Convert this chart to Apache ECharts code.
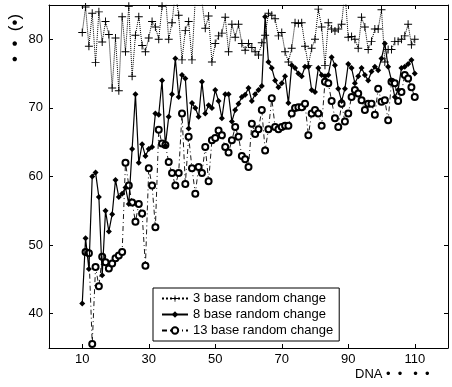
<!DOCTYPE html>
<html>
<head>
<meta charset="utf-8">
<script src="https://cdn.jsdelivr.net/npm/echarts@6/dist/echarts.min.js"></script>
<style>
  html, body { margin: 0; padding: 0; background: #fff; }
  #chart { width: 452px; height: 387px; }
</style>
</head>
<body>
<div id="chart"></div>
<script>
// x positions (DNA index) and the three curves
const xStart = 10
const base3 = [
  81, 84.7, 79, 83.8, 76.6, 84, 79.6, 82.6, 80.7, 72.9,
  80.2, 72.5, 83.3, 78.2, 84.8, 74.6, 80.6, 83.3, 79.1, 78.2,
  80.2, 82.6, 81.8, 80, 84.8, 86.5, 80, 82.4, 87, 83.5,
  77, 81.3, 82.6, 77, 86, 87, 85.5, 81.6, 83.4, 76.7,
  79.4, 80.5, 80.9, 83.2, 78.2, 82.2, 80.3, 82.2, 79.4, 78.4,
  79.4, 78.8, 78.2, 77.7, 79.5, 80.6, 83.8, 83.5, 83, 80.5,
  81, 78.2, 76.7, 78.7, 82.4, 82.3, 82.4, 79, 76.2, 78.7,
  80, 84.4, 81.8, 76.2, 82.4, 81.5, 81.2, 81.5, 82.2, 87,
  80.3, 80.4, 80, 78.7, 83.2, 81.8, 78.5, 79.7, 81.5, 81.5,
  84.3, 76.7, 78.5, 78.5, 79.7, 79.7, 80, 80.5, 82.2, 79.2,
  80
]
const base8 = [
  41.5, 51, 46.5, 60, 60.6, 57, 45.6, 55, 52, 54.5,
  59.5, 57, 57.5, 58.4, 56, 64, 72, 62, 64.7, 63,
  64, 64.3, 69.2, 69, 74, 64.5, 68.7, 72, 77.2, 71.6,
  74.8, 74.3, 67, 70.7, 70, 68.7, 73.8, 69.2, 70.4, 70,
  72.6, 71, 68.5, 72, 72, 68, 69.7, 70.6, 71.6, 71.9,
  72.9, 71, 72, 72.6, 73.2, 83.3, 76.7, 75.8, 74, 73,
  73.6, 74.6, 70.7, 76.2, 75.8, 75, 74.6, 76, 76, 72.6,
  72.3, 75.8, 74.8, 74.6, 74.8, 77.4, 76.2, 72.8, 71, 72.8,
  76.4, 75.8, 73.6, 74.6, 75.8, 74.8, 74, 75.3, 76, 75.5,
  77.2, 79.4, 76, 74, 71.6, 72.6, 75.8, 76, 76.4, 77,
  75
]
// 13 base starts one step later
const base13Start = 11
const base13 = [
  49, 48.8, 35.6, 46.8, 44, 48.3, 47.5, 46.6, 47.3,
  48.1, 48.5, 49, 62, 58.7, 56.2, 53.4, 56, 54.6, 47,
  61.2, 58.7, 52.6, 66.8, 64.8, 64.6, 62.1, 60.5, 58.7, 60.5,
  69.2, 58.9, 65.8, 61.2, 57.5, 61.4, 60.5, 64.3, 59.3, 65.3,
  65.6, 66.7, 66, 64.3, 63.5, 65.3, 67.2, 65.8, 63, 62.5,
  61.4, 67.7, 66.2, 66.9, 69.7, 63.8, 66.9, 71.4, 67.2, 66.9,
  67.2, 67.4, 67.4, 69.2, 70, 70.1, 70.1, 70.6, 66, 69.2,
  69.7, 69.2, 67.4, 73.8, 73.6, 71, 68.5, 67.2, 70.6, 68,
  69.2, 71.6, 72.6, 72.1, 71.1, 69.7, 70.6, 70.6, 69, 72.8,
  70.9, 71.1, 68.2, 73.8, 73.6, 71, 72.3, 74.8, 74.3, 73,
  71.6
]
const seriesNames = ['3 base random change', '8 base random change', '13 base random change']
const xTicks = [10, 30, 50, 70, 90, 110]
const yTicks = [40, 50, 60, 70, 80]

function pairs(start, ys) {
  return ys.map((y, i) => [start + i, y])
}

const font = 'Liberation Sans, Arial, sans-serif'
const plus = 'path://M4.4,0H5.6V4.4H10V5.6H5.6V10H4.4V5.6H0V4.4H4.4Z'

const chart = echarts.init(document.getElementById('chart'), null, { renderer: 'canvas' })

const option = {
  animation: false,
  backgroundColor: '#fff',
  grid: { left: 49, top: 5, right: 4, bottom: 39 },
  xAxis: [
    {
      type: 'value',
      min: 0,
      max: 120,
      axisLine: { onZero: false, lineStyle: { color: '#000', width: 1 } },
      axisTick: { inside: true, length: 4, customValues: xTicks, lineStyle: { color: '#000' } },
      axisLabel: { customValues: xTicks, color: '#000', fontSize: 13, fontFamily: font, margin: 5 },
      splitLine: { show: false }
    },
    {
      type: 'value',
      position: 'top',
      min: 0,
      max: 120,
      axisLine: { onZero: false, lineStyle: { color: '#000', width: 1 } },
      axisTick: { inside: true, length: 4, customValues: xTicks, lineStyle: { color: '#000' } },
      axisLabel: { show: false },
      splitLine: { show: false }
    }
  ],
  yAxis: [
    {
      type: 'value',
      min: 35,
      max: 85,
      axisLine: { show: true, onZero: false, lineStyle: { color: '#000', width: 1 } },
      axisTick: { show: true, inside: true, length: 4, customValues: yTicks, lineStyle: { color: '#000' } },
      axisLabel: { customValues: yTicks, color: '#000', fontSize: 13, fontFamily: font, margin: 6 },
      splitLine: { show: false }
    },
    {
      type: 'value',
      position: 'right',
      min: 35,
      max: 85,
      axisLine: { show: true, onZero: false, lineStyle: { color: '#000', width: 1 } },
      axisTick: { show: true, inside: true, length: 4, customValues: yTicks, lineStyle: { color: '#000' } },
      axisLabel: { show: false },
      splitLine: { show: false }
    }
  ],
  legend: {
    orient: 'vertical',
    left: 153,
    top: 288,
    backgroundColor: '#fff',
    borderColor: '#000',
    borderWidth: 1,
    padding: [4, 6, 4, 8],
    itemGap: 3,
    itemWidth: 26,
    itemHeight: 8,
    textStyle: { fontSize: 13, fontFamily: font, color: '#000' },
    data: seriesNames
  },
  graphic: [
    {
      type: 'text',
      left: 355,
      top: 368,
      style: { text: 'DNA •  •   •  •', fontSize: 13, fontFamily: font, fill: '#000' }
    },
    {
      type: 'text',
      x: 7,
      y: 62,
      rotation: Math.PI / 2,
      style: { text: '•  •  (•)', fontSize: 17, fontFamily: font, fill: '#000' }
    }
  ],
  series: [
    {
      name: seriesNames[0],
      type: 'line',
      data: pairs(xStart, base3),
      symbol: plus,
      symbolSize: 8,
      itemStyle: { color: '#000' },
      lineStyle: { color: '#000', width: 1, type: 'dotted' },
      z: 3
    },
    {
      name: seriesNames[1],
      type: 'line',
      data: pairs(xStart, base8),
      symbol: 'diamond',
      symbolSize: 6,
      itemStyle: { color: '#000' },
      lineStyle: { color: '#000', width: 1.2 },
      z: 4
    },
    {
      name: seriesNames[2],
      type: 'line',
      data: pairs(base13Start, base13),
      symbol: 'emptyCircle',
      symbolSize: 6,
      itemStyle: { color: '#000', borderWidth: 0.8 },
      lineStyle: { color: '#000', width: 0.9, type: [5, 3, 1, 3] },
      z: 2
    }
  ]
}

chart.setOption(option)
</script>
</body>
</html>
